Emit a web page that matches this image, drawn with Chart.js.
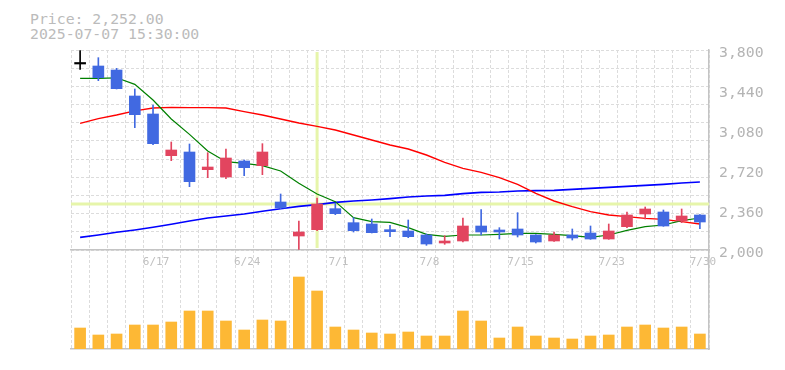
<!DOCTYPE html>
<html>
<head>
<meta charset="utf-8">
<script src="https://cdn.jsdelivr.net/npm/chart.js@4"></script>
<style>
  html, body { margin: 0; padding: 0; background: #fff; }
  #wrap { position: relative; width: 785px; height: 370px; overflow: hidden; }
  #head { position: absolute; left: 30px; top: 11px; font: 14.8px "DejaVu Sans Mono", monospace; line-height: 15px; color: #bbb; white-space: pre; }
  canvas { position: absolute; left: 0; }
  #priceCv { top: 0; z-index: 2; }
  #volCv { top: 250px; z-index: 1; }
</style>
</head>
<body>
<div id="wrap">
  <div id="head">Price: 2,252.00
2025-07-07 15:30:00</div>
  <canvas id="priceCv" width="785" height="275"></canvas>
  <canvas id="volCv" width="785" height="105"></canvas>
</div>
<script>
// daily candles, 6/11 .. 7/30
const dates = ['6/11','6/12','6/13','6/16','6/17','6/18','6/19','6/20','6/23','6/24',
  '6/25','6/26','6/27','6/30','7/1','7/2','7/3','7/4','7/7','7/8',
  '7/9','7/10','7/11','7/14','7/15','7/16','7/17','7/18','7/22','7/23',
  '7/24','7/25','7/28','7/29','7/30'];

const opens  = [3674,3656,3620,3386,3224,2849,2882,2723,2657,2801,2759,2432,2126,2183,2372,2246,2234,2183,2171,2135,
                2063,2081,2216,2180,2189,2135,2081,2135,2153,2099,2210,2324,2342,2261,2315];
const highs  = [3795,3731,3635,3449,3305,2972,2954,2876,2909,2810,2957,2504,2261,2468,2420,2291,2279,2222,2270,2144,
                2129,2288,2363,2201,2336,2138,2162,2189,2216,2234,2342,2387,2360,2369,2318];
const lows   = [3626,3524,3449,3101,2948,2804,2570,2651,2642,2669,2678,2372,2005,2174,2318,2162,2153,2120,2111,2042,
                2051,2072,2135,2099,2117,2063,2078,2090,2096,2096,2201,2279,2213,2246,2192];
const closes = [3674,3551,3452,3218,2957,2900,2615,2747,2828,2741,2882,2378,2162,2414,2327,2174,2156,2165,2120,2054,
                2081,2216,2162,2162,2135,2072,2135,2108,2099,2171,2315,2369,2216,2306,2252];

// moving averages
const ma5  = [3545,3545,3550,3491,3350,3179,3041,2891,2795,2780,2759,2711,2600,2504,2435,2291,2255,2249,2201,2141,
              2123,2135,2135,2141,2150,2150,2141,2129,2114,2135,2177,2210,2225,2264,2288];
const ma25 = [3140,3182,3215,3252,3278,3284,3281,3281,3278,3245,3215,3179,3143,3113,3080,3035,2990,2945,2909,2855,
              2789,2735,2699,2651,2591,2510,2441,2390,2345,2315,2300,2285,2276,2255,2234];
const ma75 = [2114,2135,2159,2180,2204,2231,2261,2288,2306,2324,2348,2372,2393,2408,2429,2441,2450,2462,2477,2486,
              2492,2507,2519,2522,2531,2534,2537,2546,2555,2564,2573,2582,2591,2603,2612];

// volume (thousand shares)
const volumes = [210,140,150,240,240,270,380,380,280,190,290,280,720,580,220,190,160,150,170,130,
                 130,380,280,110,220,130,110,100,130,140,220,240,210,220,150];

const priceTicks = [2000, 2360, 2720, 3080, 3440, 3800];
const crossIdx = 13;

const UP = '#e2455f', DOWN = '#4169e1', FLAT = '#000000';
const GRID = '#dcdcdc', AXIS = '#c4c4c4';
const MONO = '"DejaVu Sans Mono", monospace';

const candleColors = opens.map((o, i) => closes[i] > o ? UP : (closes[i] < o ? DOWN : FLAT));
const wicks = lows.map((l, i) => [l, highs[i]]);
const bodies = opens.map((o, i) => [o, closes[i]]);

const crosshair = {
  id: 'crosshair',
  beforeDatasetsDraw(chart) {
    const { ctx, chartArea: a, scales: { x, y } } = chart;
    const px = x.getPixelForValue(crossIdx);
    const py = y.getPixelForValue(closes[crossIdx]);
    ctx.save();
    ctx.strokeStyle = '#e6f5aa';
    ctx.lineWidth = 3;
    ctx.beginPath();
    ctx.moveTo(px, a.top + 2); ctx.lineTo(px, a.bottom - 2);
    ctx.moveTo(a.left, py); ctx.lineTo(a.right, py);
    ctx.stroke();
    ctx.restore();
  }
};

new Chart(document.getElementById('priceCv'), {
  data: {
    labels: dates,
    datasets: [
      { type: 'bar', data: wicks, backgroundColor: candleColors, barThickness: 1, grouped: false, yAxisID: 'y', order: 2 },
      { type: 'bar', data: bodies, backgroundColor: candleColors, barThickness: 11, grouped: false, minBarLength: 1.5, yAxisID: 'y', order: 1 },
      { type: 'line', data: ma5, borderColor: '#008000', borderWidth: 1.2, pointRadius: 0, yAxisID: 'y', order: 3 },
      { type: 'line', data: ma25, borderColor: '#ff0000', borderWidth: 1.4, pointRadius: 0, yAxisID: 'y', order: 3 },
      { type: 'line', data: ma75, borderColor: '#0000ff', borderWidth: 1.6, pointRadius: 0, yAxisID: 'y', order: 3 }
    ]
  },
  options: {
    responsive: false,
    animation: false,
    layout: { padding: { left: 71, top: 50, right: 0, bottom: 0 } },
    plugins: { legend: { display: false }, tooltip: { enabled: false } },
    scales: {
      x: {
        offset: true,
        grid: { offset: true, color: GRID, drawTicks: false },
        border: { display: true, color: AXIS, width: 1.5, dash: [3, 2] },
        ticks: {
          autoSkip: false, maxRotation: 0, padding: 6, labelOffset: 3,
          color: '#c0c0c0', font: { family: MONO, size: 11 },
          callback: (v, i) => i % 5 === 4 ? dates[i] : ''
        },
        afterFit: s => { s.height = 25; }
      },
      yg: {
        type: 'linear', position: 'left', min: 0, max: 11,
        ticks: { display: false, stepSize: 1 },
        grid: { color: GRID, drawTicks: false },
        border: { display: false, dash: [3, 2] },
        afterFit: s => { s.width = 0; }
      },
      y: {
        type: 'linear', position: 'right', min: 2000, max: 3800,
        afterBuildTicks: s => { s.ticks = priceTicks.map(v => ({ value: v })); },
        ticks: {
          padding: 10, labelOffset: 3, color: '#b4b4b4',
          font: { family: MONO, size: 14.8 },
          callback: v => v.toLocaleString('en-US')
        },
        grid: { display: false, drawTicks: false },
        border: { display: true, color: AXIS, width: 1.5 },
        afterFit: s => { s.width = 76; }
      }
    }
  },
  plugins: [crosshair]
});

new Chart(document.getElementById('volCv'), {
  type: 'bar',
  data: {
    labels: dates,
    datasets: [{ data: volumes, backgroundColor: '#fdb835', barThickness: 11, yAxisID: 'v' }]
  },
  options: {
    responsive: false,
    animation: false,
    layout: { padding: { left: 71, top: 0, right: 0, bottom: 0 } },
    plugins: { legend: { display: false }, tooltip: { enabled: false } },
    scales: {
      x: {
        offset: true,
        grid: { offset: true, color: GRID, drawTicks: false },
        border: { display: true, color: AXIS, width: 1.5, dash: [3, 2] },
        ticks: { display: false },
        afterFit: s => { s.height = 6; }
      },
      v: {
        position: 'right', min: 0, max: 990,
        ticks: { display: false },
        grid: { display: false, drawTicks: false },
        border: { display: true, color: AXIS, width: 1.5 },
        afterFit: s => { s.width = 76; }
      }
    }
  }
});
</script>
</body>
</html>
